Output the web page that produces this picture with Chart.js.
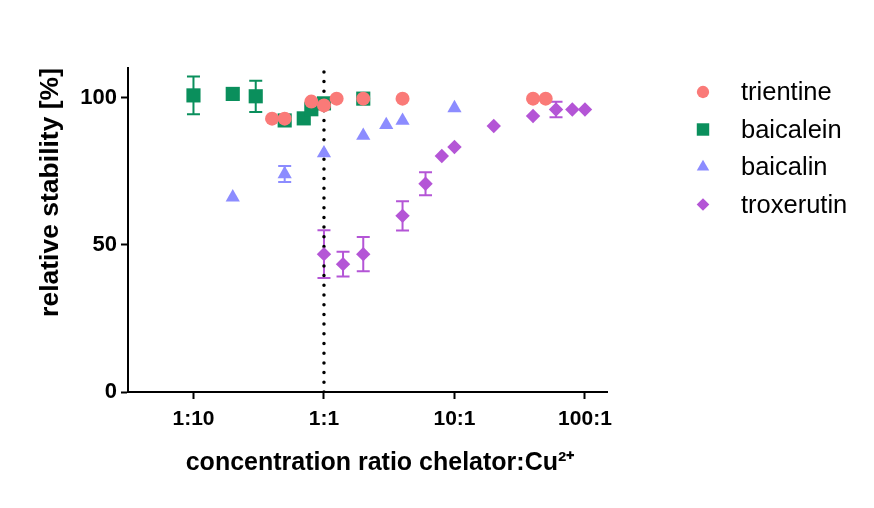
<!DOCTYPE html>
<html>
<head>
<meta charset="utf-8">
<script src="https://cdn.jsdelivr.net/npm/chart.js@4.4.1/dist/chart.umd.min.js"></script>
<style>
  body { margin: 0; background: #fff; }
  #wrap { width: 874px; height: 508px; position: relative; }
</style>
</head>
<body>
<div id="wrap"><canvas id="stabilityChart"></canvas></div>
<script>
// tick positions / labels
const ratioTicks = [0.1, 1, 10, 100];
const ratioLabels = ['1:10', '1:1', '10:1', '100:1'];
const stabilityTicks = [0, 50, 100];

// trientine
const trientineX = [0.4, 0.5, 0.8, 1, 1.25, 2, 4, 40, 50];
const trientineY = [92.8, 92.8, 98.6, 97.3, 99.6, 99.6, 99.6, 99.6, 99.6];

// baicalein
const baicaleinX = [0.1, 0.2, 0.3, 0.5, 0.7, 0.8, 1, 2];
const baicaleinY = [100.7, 101.2, 100.4, 92.2, 92.9, 96, 98, 99.6];
const baicaleinErr = [6.4, 0, 5.3, 0, 0, 0, 0, 0];

// baicalin
const baicalinX = [0.2, 0.5, 1, 2, 3, 4, 10];
const baicalinY = [66.1, 74.0, 81.1, 87.0, 90.7, 92.1, 96.4];
const baicalinErr = [0, 2.7, 0, 0, 0, 0, 0];

// troxerutin
const troxerutinX = [1, 1.4, 2, 4, 6, 8, 10, 20, 40, 60, 80, 100];
const troxerutinY = [46.8, 43.4, 46.8, 59.8, 70.7, 80.1, 83.2, 90.3, 93.7, 95.9, 95.9, 95.9];
const troxerutinErr = [8.1, 4.2, 5.8, 5.0, 3.9, 0, 0, 0, 0, 2.6, 0, 0];

// 1:1 reference line
const refLineX = [1, 1];
const refLineY = [0, 110];

const toPoints = (xs, ys) => xs.map((x, i) => ({ x: x, y: ys[i] }));

const fontFamily = "'Liberation Sans', Arial, Helvetica, sans-serif";

// error bars drawn from the dataset's err array through the scales
const errorBars = {
    id: 'errorBars',
    beforeDatasetsDraw(chart) {
        const ctx = chart.ctx;
        const xs = chart.scales.x;
        const ys = chart.scales.y;
        ctx.save();
        chart.data.datasets.forEach(ds => {
            if (!ds.errors) return;
            ctx.strokeStyle = ds.backgroundColor;
            ctx.lineWidth = 2;
            ds.data.forEach((p, i) => {
                const e = ds.errors[i];
                if (!e) return;
                const px = xs.getPixelForValue(p.x);
                const top = ys.getPixelForValue(p.y + e);
                const bot = ys.getPixelForValue(p.y - e);
                ctx.beginPath();
                ctx.moveTo(px, top); ctx.lineTo(px, bot);
                ctx.moveTo(px - 6.5, top); ctx.lineTo(px + 6.5, top);
                ctx.moveTo(px - 6.5, bot); ctx.lineTo(px + 6.5, bot);
                ctx.stroke();
            });
        });
        ctx.restore();
    }
};

// legend at the right, one row per compound
const sideLegend = {
    id: 'sideLegend',
    afterDraw(chart, args, opts) {
        const ctx = chart.ctx;
        ctx.save();
        let row = 0;
        chart.data.datasets.forEach(ds => {
            if (!ds.inLegend) return;
            const y = opts.top + row * opts.rowHeight;
            ctx.fillStyle = ds.backgroundColor;
            ctx.strokeStyle = ds.backgroundColor;
            Chart.helpers.drawPoint(ctx, {
                pointStyle: ds.pointStyle,
                radius: ds.pointRadius * 0.88,
                rotation: 0,
                borderWidth: 0
            }, opts.left, y);
            ctx.fillStyle = '#000';
            ctx.font = '25.5px ' + fontFamily;
            ctx.textBaseline = 'middle';
            ctx.textAlign = 'left';
            ctx.fillText(ds.label, opts.textLeft, y + 1);
            row++;
        });
        ctx.restore();
    }
};

new Chart(document.getElementById('stabilityChart'), {
    type: 'scatter',
    data: {
        datasets: [
            {
                label: 'trientine',
                data: toPoints(trientineX, trientineY),
                pointStyle: 'circle',
                pointRadius: 7,
                backgroundColor: '#FA7A78',
                borderWidth: 0,
                inLegend: true,
                order: 1
            },
            {
                label: 'baicalein',
                data: toPoints(baicaleinX, baicaleinY),
                errors: baicaleinErr,
                pointStyle: 'rect',
                pointRadius: 10,
                backgroundColor: '#0A8F5C',
                borderWidth: 0,
                inLegend: true,
                order: 2
            },
            {
                label: 'baicalin',
                data: toPoints(baicalinX, baicalinY),
                errors: baicalinErr,
                pointStyle: 'triangle',
                pointRadius: 8.2,
                backgroundColor: '#8C8CFF',
                borderWidth: 0,
                inLegend: true,
                order: 3
            },
            {
                label: 'troxerutin',
                data: toPoints(troxerutinX, troxerutinY),
                errors: troxerutinErr,
                pointStyle: 'rectRot',
                pointRadius: 7.2,
                backgroundColor: '#B455D6',
                borderWidth: 0,
                inLegend: true,
                order: 4
            },
            {
                label: '1:1',
                data: toPoints(refLineX, refLineY),
                showLine: true,
                pointRadius: 0,
                borderColor: '#000',
                borderWidth: 3.5,
                borderDash: [0, 9.7],
                borderCapStyle: 'round',
                order: 10
            }
        ]
    },
    options: {
        responsive: true,
        maintainAspectRatio: false,
        animation: false,
        layout: {
            padding: { left: 0, top: 68, right: 267, bottom: 0 }
        },
        scales: {
            x: {
                type: 'logarithmic',
                min: 0.0315,
                max: 147.5,
                afterBuildTicks: (scale) => {
                    scale.ticks = ratioTicks.map(v => ({ value: v }));
                },
                afterFit: (scale) => { scale.height = 116; },
                ticks: {
                    autoSkip: false,
                    maxRotation: 0,
                    padding: 8,
                    color: '#000',
                    font: { family: fontFamily, size: 21, weight: 'bold' },
                    callback: (value) => ratioLabels[ratioTicks.indexOf(value)]
                },
                grid: {
                    drawOnChartArea: false,
                    drawTicks: true,
                    tickLength: 7,
                    tickWidth: 2,
                    tickColor: '#000'
                },
                border: { display: true, color: '#000', width: 2 },
                title: {
                    display: true,
                    // leading em space nudges the centred title to the right like the original
                    text: '\u2003concentration ratio chelator:Cu²⁺',
                    color: '#000',
                    font: { family: fontFamily, size: 25, weight: 'bold' },
                    padding: { top: 0, bottom: 30 }
                }
            },
            y: {
                type: 'linear',
                min: 0,
                max: 110,
                afterBuildTicks: (scale) => {
                    scale.ticks = stabilityTicks.map(v => ({ value: v }));
                },
                afterFit: (scale) => { scale.width = 128; },
                ticks: {
                    padding: 4,
                    color: '#000',
                    font: { family: fontFamily, size: 22, weight: 'bold' }
                },
                grid: {
                    drawOnChartArea: false,
                    drawTicks: true,
                    tickLength: 7,
                    tickWidth: 2,
                    tickColor: '#000'
                },
                border: { display: true, color: '#000', width: 2 },
                title: {
                    display: true,
                    text: 'relative stability [%]',
                    align: 'end',
                    color: '#000',
                    font: { family: fontFamily, size: 26.5, weight: 'bold' },
                    padding: { top: 35, bottom: 0 }
                }
            }
        },
        plugins: {
            legend: { display: false },
            tooltip: { enabled: false },
            sideLegend: { left: 703, top: 92, rowHeight: 37.5, textLeft: 741 }
        }
    },
    plugins: [errorBars, sideLegend]
});
</script>
</body>
</html>
